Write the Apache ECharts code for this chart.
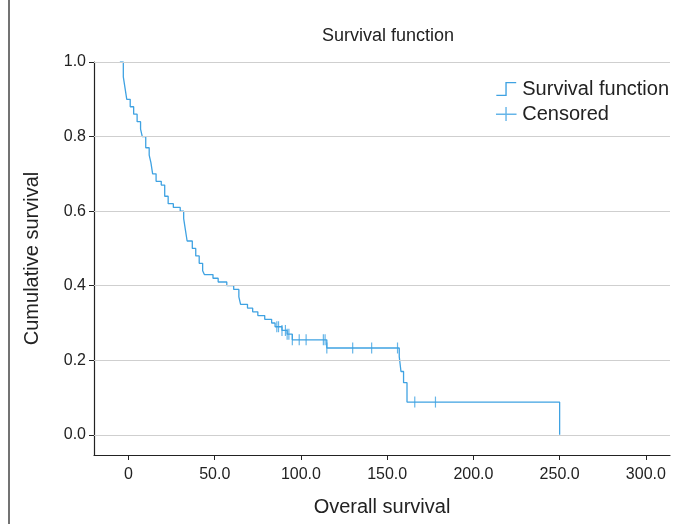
<!DOCTYPE html>
<html>
<head>
<meta charset="utf-8">
<script src="https://cdn.jsdelivr.net/npm/echarts@6/dist/echarts.min.js"></script>
<style>html,body{margin:0;padding:0;background:#fff}#c{width:682px;height:524px}</style>
</head>
<body>
<div id="c"></div>
<script>
var times = [-5, -3, -2, -1, 1, 3, 5, 7, 8, 10, 12, 13, 14, 16, 19, 21, 23, 26, 30, 32, 33, 34, 37, 39, 41, 43, 44, 49, 52, 57, 61, 64, 65, 69, 72, 75, 79, 83, 85, 89, 92, 95, 115, 157, 158, 159.5, 161.5, 163, 250];
var surv = [1.0, 0.96, 0.93, 0.90, 0.88, 0.86, 0.84, 0.82, 0.80, 0.77, 0.75, 0.73, 0.70, 0.68, 0.67, 0.64, 0.62, 0.61, 0.60, 0.58, 0.55, 0.52, 0.50, 0.48, 0.46, 0.44, 0.43, 0.42, 0.41, 0.40, 0.39, 0.37, 0.35, 0.34, 0.33, 0.32, 0.31, 0.30, 0.29, 0.28, 0.27, 0.255, 0.233, 0.21, 0.17, 0.14, 0.088, 0.088, 0];
var censoredTimes = [86, 87, 89, 91, 92, 93, 95, 99, 103, 113, 114, 115, 130, 141, 156, 166, 178];
var xTicks = [0, 50, 100, 150, 200, 250, 300];
var yTicks = [0, 0.2, 0.4, 0.6, 0.8, 1.0];

var blue = '#3fa2e2';
var font = 'Liberation Sans';

// survival value at time t (step function)
var survAt = function (t) {
    var v = surv[0];
    for (var i = 0; i < times.length; i++) {
        if (times[i] <= t) v = surv[i];
    }
    return v;
};

var curve = times.map(function (t, i) { return [t, surv[i]]; });
var censored = censoredTimes.map(function (t) { return [t, survAt(t)]; });

var chart = echarts.init(document.getElementById('c'));
chart.setOption({
    animation: false,
    title: {
        text: 'Survival function', left: 383, top: 22, textAlign: 'center',
        textStyle: {fontFamily: font, fontSize: 18, fontWeight: 'normal', color: '#222'}
    },
    legend: {
        right: 8, top: 74, orient: 'vertical', itemGap: 5, itemWidth: 22, itemHeight: 14,
        textStyle: {fontFamily: font, fontSize: 20, color: '#222'},
        data: [
            {name: 'Survival function', icon: 'path://M0,14 L10,14 L10,0 L22,0 L22,1.5 L11.5,1.5 L11.5,15.5 L0,15.5 Z'},
            {name: 'Censored', icon: 'path://M0,7 L10,7 L10,0 L11.5,0 L11.5,7 L22,7 L22,8.5 L11.5,8.5 L11.5,15 L10,15 L10,8.5 L0,8.5 Z'}
        ]
    },
    grid: {left: 94, right: 12, top: 62, bottom: 69},
    xAxis: {
        type: 'value', min: -20, max: 314,
        name: 'Overall survival', nameLocation: 'middle', nameGap: 42,
        nameTextStyle: {fontFamily: font, fontSize: 20, color: '#222'},
        axisLine: {onZero: false, lineStyle: {color: '#222', width: 1.2}},
        axisTick: {customValues: xTicks, length: 5, lineStyle: {color: '#222'}},
        axisLabel: {customValues: xTicks, margin: 12, fontFamily: font, fontSize: 16, color: '#222',
            formatter: function (v) { return v === 0 ? '0' : v.toFixed(1); }},
        splitLine: {show: false}
    },
    yAxis: {
        type: 'value', min: -0.054, max: 1.0,
        name: 'Cumulative survival', nameLocation: 'middle', nameGap: 52,
        nameTextStyle: {fontFamily: font, fontSize: 20, color: '#222'},
        axisLine: {show: true, onZero: false, lineStyle: {color: '#222', width: 1.2}},
        axisTick: {show: true, customValues: yTicks, length: 5, lineStyle: {color: '#222'}},
        axisLabel: {customValues: yTicks, margin: 8, fontFamily: font, fontSize: 16, color: '#222',
            formatter: function (v) { return v.toFixed(1); }},
        splitLine: {show: false}
    },
    graphic: [
        {type: 'line', shape: {x1: 9, y1: 0, x2: 9, y2: 524}, style: {stroke: '#444', lineWidth: 1.5}}
    ],
    series: [
        {
            name: 'Survival function', type: 'line', step: 'end', data: curve,
            showSymbol: false, lineStyle: {color: blue, width: 1.3}, itemStyle: {color: blue},
            markLine: {
                silent: true, symbol: 'none', label: {show: false},
                lineStyle: {color: '#cfcfcf', type: 'solid', width: 1.2},
                data: yTicks.map(function (v) { return {yAxis: v}; })
            },
            z: 3
        },
        {
            name: 'Censored', type: 'scatter', data: censored,
            symbol: 'rect', symbolSize: [1.2, 11], itemStyle: {color: blue}, z: 4
        }
    ]
});
</script>
</body>
</html>
